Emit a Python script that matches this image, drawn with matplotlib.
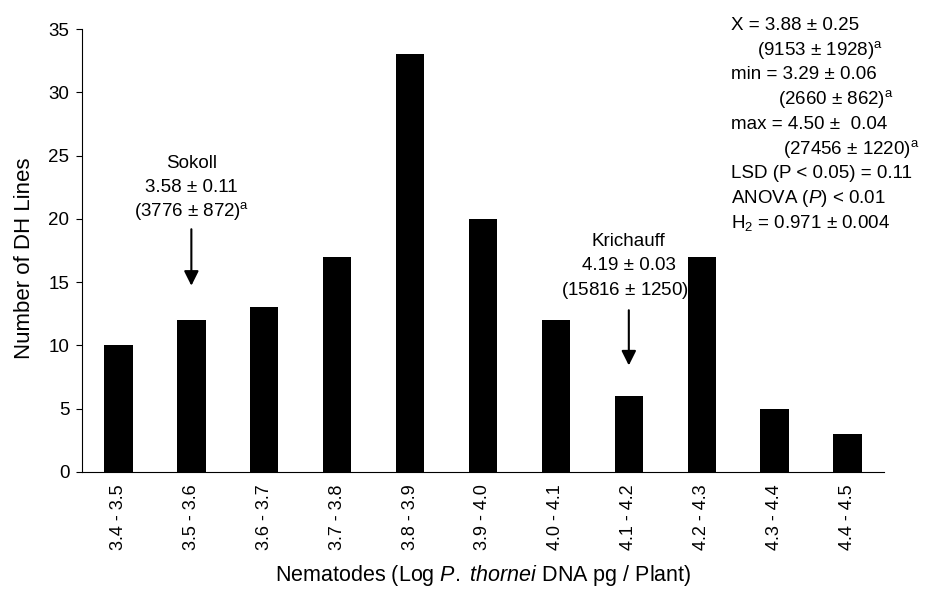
import matplotlib
matplotlib.use("Agg")
import matplotlib.pyplot as plt
import numpy as np

plt.rcParams['font.family'] = ['Liberation Sans', 'DejaVu Sans']
plt.rcParams['mathtext.fontset'] = 'custom'
plt.rcParams['mathtext.rm'] = 'Liberation Sans'
plt.rcParams['mathtext.it'] = 'Liberation Sans:italic'
plt.rcParams['mathtext.bf'] = 'Liberation Sans:bold'

# histogram classes (log DNA) and counts of DH lines
classes = ['3.4 - 3.5', '3.5 - 3.6', '3.6 - 3.7', '3.7 - 3.8', '3.8 - 3.9', '3.9 - 4.0',
           '4.0 - 4.1', '4.1 - 4.2', '4.2 - 4.3', '4.3 - 4.4', '4.4 - 4.5']
counts = [10, 12, 13, 17, 33, 20, 12, 6, 17, 5, 3]

# parent annotations
sokoll_idx = 1
sokoll_lines = ['Sokoll', '3.58 ± 0.11', '(3776 ± 872)$^{\\mathrm{a}}$']
krich_idx = 7
krich_lines = ['Krichauff', '4.19 ± 0.03', '(15816 ± 1250)$^{\\mathrm{a}}$']

# summary statistics block
stats_lines = ['X = 3.88 ± 0.25', '(9153 ± 1928)$^{\\mathrm{a}}$', 'min = 3.29 ± 0.06',
               '(2660 ± 862)$^{\\mathrm{a}}$', 'max = 4.50 ±  0.04', '(27456 ± 1220)$^{\\mathrm{a}}$',
               'LSD (P < 0.05) = 0.11', 'ANOVA ($\\mathit{P}$) < 0.01', 'H$_{2}$ = 0.971 ± 0.004']
stats_indent = [0, 26, 0, 47, 0, 52, 0, 0, 0]

fs = 13.5

fig = plt.figure(figsize=(9.28, 5.89), dpi=100)
ax = fig.add_axes([82/928, 1-472/589, (884-82)/928, (472-29)/589])

x = np.arange(len(classes))
ax.bar(x, counts, width=0.39, color='black')
ax.set_xlim(-0.5, len(classes) - 0.5)
ax.set_ylim(0, 35)
ax.set_yticks(range(0, 36, 5))
ax.set_xticks(x)
ax.set_xticklabels(classes, rotation=90, fontsize=13)
ax.tick_params(axis='y', labelsize=fs, length=4, direction='out', pad=5)
ax.tick_params(axis='x', length=0, pad=9)
for s in ['top', 'right']:
    ax.spines[s].set_visible(False)
ax.set_ylabel('Number of DH Lines', fontsize=16)
ax.yaxis.set_label_coords(-0.059, (472 - 258) / (472 - 29))
ax.set_xlabel('Nematodes (Log $\\mathit{P.}$ $\\mathit{thornei}$ DNA pg / Plant)', fontsize=15.5, labelpad=9)

# Sokoll
for i, t in enumerate(sokoll_lines):
    ax.text(sokoll_idx, 24.4 - 1.9*i, t, ha='center', va='center', fontsize=fs)
ax.annotate('', xy=(sokoll_idx, 14.5), xytext=(sokoll_idx, 19.4),
            arrowprops=dict(arrowstyle='-|>', color='black', lw=1.5, mutation_scale=22))

# Krichauff
for i, t in enumerate(krich_lines):
    ax.text(krich_idx, 18.2 - 1.9*i, t, ha='center', va='center', fontsize=fs)
ax.annotate('', xy=(krich_idx, 8.2), xytext=(krich_idx, 13.0),
            arrowprops=dict(arrowstyle='-|>', color='black', lw=1.5, mutation_scale=22))

# stats block
for i, t in enumerate(stats_lines):
    fig.text((731 + stats_indent[i])/928, 1 - (25 + 24.8*i)/589, t, ha='left', va='center', fontsize=fs)

fig.savefig('out.png', dpi=100)
